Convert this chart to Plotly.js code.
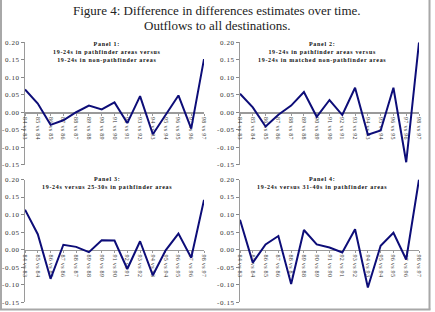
<!DOCTYPE html>
<html>
<head>
<meta charset="utf-8">
<script src="https://cdn.plot.ly/plotly-3.0.1.min.js"></script>
<style>
  html, body { margin: 0; padding: 0; background: #fff; }
  #chart { width: 435px; height: 312px; }
</style>
</head>
<body>
<div id="chart"></div>
<script>
// Year-on-year comparison periods (x categories)
const periods = ['84 vs 83', '85 vs 84', '86 vs 85', '87 vs 86', '88 vs 87',
                 '89 vs 88', '90 vs 89', '91 vs 90', '92 vs 91', '93 vs 92',
                 '94 vs 93', '95 vs 94', '96 vs 95', '97 vs 96', '98 vs 97'];

// Difference-in-differences estimates, one array per panel
const panel1 = [0.065, 0.025, -0.036, -0.023, 0.000, 0.019, 0.008, 0.028,
                -0.031, 0.046, -0.063, -0.008, 0.048, -0.047, 0.152];
const panel2 = [0.053, 0.014, -0.041, -0.007, 0.019, 0.058, -0.013, 0.035,
                -0.008, 0.070, -0.064, -0.052, 0.070, -0.143, 0.200];
const panel3 = [0.114, 0.044, -0.083, 0.014, 0.008, -0.007, 0.027, 0.026,
                -0.055, 0.024, -0.073, -0.002, 0.046, -0.023, 0.142];
const panel4 = [0.085, -0.037, 0.015, 0.039, -0.098, 0.056, 0.015, 0.006,
                -0.008, 0.058, -0.108, 0.011, 0.048, -0.028, 0.200];

// Panel headings
const panelTitles = [
  ['Panel 1:', '19-24s in pathfinder areas versus', '19-24s in non-pathfinder areas'],
  ['Panel 2:', '19-24s in pathfinder areas versus', '19-24s in matched non-pathfinder areas'],
  ['Panel 3:', '19-24s versus 25-30s in pathfinder areas'],
  ['Panel 4:', '19-24s versus 31-40s in pathfinder areas']
];

const figTitle = ['Figure 4: Difference in differences estimates over time.',
                  'Outflows to all destinations.'];

const yTicks = [-0.15, -0.10, -0.05, 0.00, 0.05, 0.10, 0.15, 0.20];
const yRange = [-0.15, 0.20];

// ---- layout geometry (page is 435 x 312, no margins) ----
const W = 435, H = 312;
const px = v => v / W;
const py = v => 1 - v / H;

const xDomains = [[px(25), px(204)], [px(240), px(419)]];
const yDomains = [[py(164.7), py(42.3)], [py(302.3), py(179.5)]];

const serif = '"Liberation Serif", "Times New Roman", Times, serif';
const spaced = (s, ls) => `<span style="letter-spacing:${ls}px">${s}</span>`;

const series = [panel1, panel2, panel3, panel4];
const lineColor = '#0d0d78';

const traces = series.map((vals, i) => ({
  type: 'scatter',
  mode: 'lines',
  x: periods,
  y: vals,
  xaxis: i === 0 ? 'x' : 'x' + (i + 1),
  yaxis: i === 0 ? 'y' : 'y' + (i + 1),
  line: { color: lineColor, width: 2 },
  hoverinfo: 'skip',
  showlegend: false
}));

const layout = {
  width: W, height: H,
  margin: { l: 0, r: 0, t: 0, b: 0 },
  paper_bgcolor: '#fff',
  plot_bgcolor: 'rgba(0,0,0,0)',
  showlegend: false,
  annotations: [],
  shapes: [
    // frame around the figure
    { type: 'line', xref: 'paper', yref: 'paper', x0: px(1), x1: px(1), y0: 1, y1: py(309.5), line: { color: '#a8a8a8', width: 2 } },
    { type: 'line', xref: 'paper', yref: 'paper', x0: px(429.5), x1: px(429.5), y0: 1, y1: py(309.5), line: { color: '#a8a8a8', width: 2 } },
    { type: 'line', xref: 'paper', yref: 'paper', x0: px(0), x1: px(430.5), y0: py(309.5), y1: py(309.5), line: { color: '#a8a8a8', width: 2 } }
  ]
};

for (let i = 0; i < 4; i++) {
  const col = i % 2, row = Math.floor(i / 2);
  const xd = xDomains[col], yd = yDomains[row];
  const sfx = i === 0 ? '' : String(i + 1);
  // the category axis crosses the value axis at zero
  const zeroPos = yd[0] + (0 - yRange[0]) / (yRange[1] - yRange[0]) * (yd[1] - yd[0]);

  layout['xaxis' + sfx] = {
    domain: xd,
    anchor: 'free',
    position: zeroPos,
    type: 'category',
    categoryorder: 'array',
    categoryarray: periods,
    range: [0, periods.length - 1],
    tickvals: periods,
    ticktext: periods.map(p => spaced(p, 0.3)),
    tickangle: 90,
    tickfont: { family: serif, size: 6, color: '#333' },
    ticks: 'outside', ticklen: 2, tickcolor: '#999', tickwidth: 1,
    showline: true, linecolor: '#9a9a9a', linewidth: 1.6,
    showgrid: false, zeroline: false,
    layer: 'below traces',
    fixedrange: true
  };
  layout['yaxis' + sfx] = {
    domain: yd,
    anchor: i === 0 ? 'x' : 'x' + (i + 1),
    range: yRange,
    tickvals: yTicks,
    ticktext: yTicks.map(v => spaced(v.toFixed(2), 0.6)),
    tickfont: { family: serif, size: 7, color: '#333' },
    ticks: 'outside', ticklen: 3, tickcolor: '#888', tickwidth: 1,
    showline: true, linecolor: '#9a9a9a', linewidth: 1,
    showgrid: false, zeroline: false,
    layer: 'below traces',
    fixedrange: true
  };

  // panel heading, centred over its panel
  const cx = col === 0 ? px(107) : px(322);
  const top = row === 0 ? py(38.5) : py(173.5);
  layout.annotations.push({
    xref: 'paper', yref: 'paper', x: cx, y: top,
    xanchor: 'center', yanchor: 'top', align: 'center',
    showarrow: false,
    text: panelTitles[i].map(s => spaced(s, 0.7)).join('<br>'),
    font: { family: serif, size: 6, color: '#111', weight: 'bold' }
  });
}

// figure title
layout.annotations.push({
  xref: 'paper', yref: 'paper', x: px(217), y: py(10),
  xanchor: 'center', yanchor: 'middle', showarrow: false,
  text: figTitle[0], font: { family: serif, size: 13, color: '#222' }
});
layout.annotations.push({
  xref: 'paper', yref: 'paper', x: px(217), y: py(25),
  xanchor: 'center', yanchor: 'middle', showarrow: false,
  text: figTitle[1], font: { family: serif, size: 13, color: '#222' }
});

Plotly.newPlot('chart', traces, layout, { staticPlot: true, displayModeBar: false });
</script>
</body>
</html>
